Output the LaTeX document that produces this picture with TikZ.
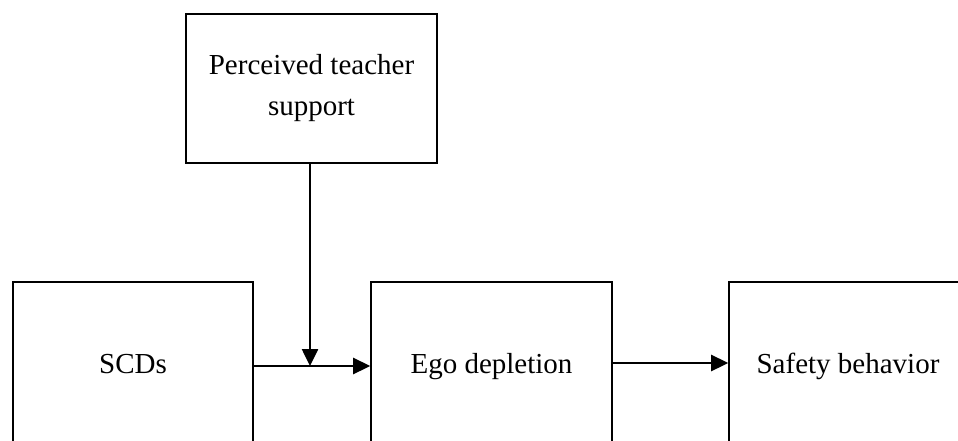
\documentclass[tikz,border=0pt]{standalone}
\usepackage{fontspec}
\setmainfont{Liberation Serif}
\usetikzlibrary{arrows.meta}
\tikzset{
  box/.style={draw=black, line width=1.6pt, rectangle, inner sep=0pt, align=center,
    font=\fontsize{29}{41}\selectfont},
  lowbox/.style={box, minimum height=169pt, text height=20pt, text depth=6pt},
  conn/.style={line width=2.6pt, -{Triangle[length=17pt,width=16pt]}}
}
\begin{document}
\begin{tikzpicture}[x=1pt,y=-1pt]
\useasboundingbox (0,0) rectangle (958,441);
\clip (0,0) rectangle (958,441);
\node[box, minimum width=251pt, minimum height=149pt] (pts) at (311.5,88.5) {Perceived teacher\\support};
\node[lowbox, minimum width=240pt] (scd) at (133,366.5) {SCDs};
\node[lowbox, minimum width=241pt] (ego) at (491.5,366.5) {Ego depletion};
\node[lowbox, minimum width=238pt] (safe) at (848,366.5) {Safety behavior};
\coordinate (m) at (310,366);
\draw[conn] (scd.east |- 0,366) -- (ego.west |- 0,366);
\draw[conn] (ego.east |- 0,363) -- (safe.west |- 0,363);
\draw[conn] (pts.south -| m) -- (m);
\end{tikzpicture}
\end{document}
